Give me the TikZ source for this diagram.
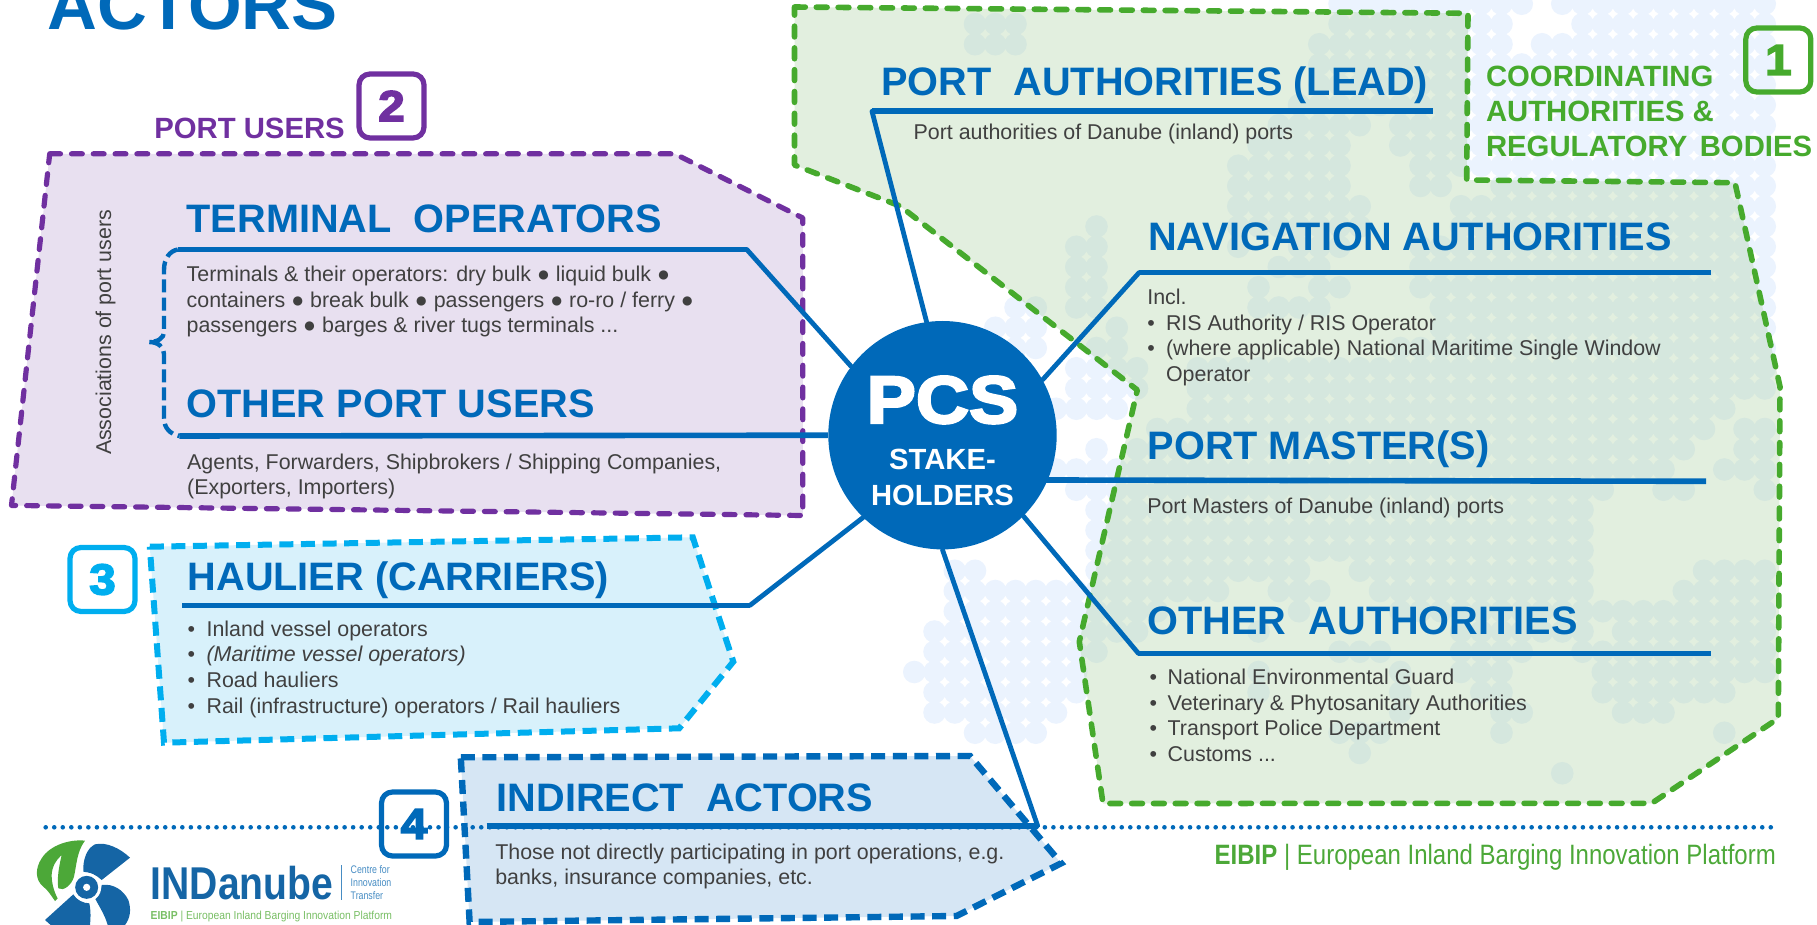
\documentclass[tikz,border=0pt]{standalone}
\usepackage{fontspec}
\usepackage{graphicx}
\setmainfont{Liberation Sans}
\newfontfamily\heavy{Liberation Sans}[BoldFeatures={FakeBold=3.5,FakeStretch=1.1}]
\definecolor{cblue}{RGB}{0,105,185}
\definecolor{cgreen}{RGB}{70,170,45}
\definecolor{cpurple}{RGB}{112,48,160}
\definecolor{ccyan}{RGB}{0,174,239}
\definecolor{ctext}{RGB}{64,64,64}
\definecolor{fdot}{RGB}{235,243,254}
\definecolor{fgreen}{RGB}{172,209,163}
\definecolor{fpurple}{RGB}{232,224,240}
\definecolor{fcyan}{RGB}{216,241,251}
\definecolor{findirect}{RGB}{214,230,244}
\definecolor{lgblue}{RGB}{21,101,165}
\definecolor{lgblue2}{RGB}{70,140,195}
\definecolor{lggreen}{RGB}{76,168,56}
\definecolor{lggreen2}{RGB}{120,190,100}
\tikzset{
  tx/.style={anchor=base west,inner sep=0pt,outer sep=0pt},
  head/.style={tx,text=cblue,font=\bfseries\fontsize{19.85}{22}\selectfont},
  bodyt/.style={tx,text=ctext,font=\fontsize{10.7}{12}\selectfont},
  sub/.style={tx,font=\bfseries\fontsize{14.65}{17}\selectfont},
  conn/.style={draw=cblue,line width=2.8pt},
  diag/.style={draw=cblue,line width=2.4pt,line cap=round},
  numbox/.style={draw=#1,text=#1,line width=2.6pt,rounded corners=5.5pt,minimum width=32.5pt,minimum height=32pt,inner sep=0pt,font=\heavy\bfseries\fontsize{21.7}{24}\selectfont},
  gbox/.style={draw=cgreen,line width=2.8pt,dash pattern=on 5.4pt off 5.5pt,line cap=round,line join=round},
  pbox/.style={draw=cpurple,fill=fpurple,line width=2.6pt,dash pattern=on 5.4pt off 5.5pt,line cap=round,line join=round},
  cbox/.style={draw=ccyan,fill=fcyan,line width=3pt,dash pattern=on 7pt off 3.8pt,line join=miter},
  ibox/.style={draw=cblue,fill=findirect,line width=3.2pt,dash pattern=on 7pt off 3.8pt,line join=miter},
}
\begin{document}
\begin{tikzpicture}[x=0.5pt,y=-0.5pt]
\useasboundingbox (0,0) rectangle (1817,925);
% background dot map
\foreach \r/\s in {
0/{18/27,29/39},1/{0/2,18/26,30/39},2/{0/2,17/26,28/39},3/{17/39},4/{17/39},5/{16/39},
6/{15/19,21/39},7/{14/18,21/39},8/{13/18,22/39},9/{13/18,22/23,26/39},10/{13/19,24/39},
11/{6/6,13/19,24/39},12/{5/6,13/13,16/18,22/39},13/{5/6,15/17,22/39},14/{5/6,14/14,17/18,22/39},
15/{2/3,5/6,14/17,23/39},16/{1/3,7/7,23/39},17/{2/3,6/7,21/39},18/{5/8,11/39},19/{5/8,11/39},
20/{4/7,11/37},21/{9/36,38/39},22/{6/6,8/35,38/39},23/{4/34,37/39},24/{5/31,34/35,39/39},
25/{6/30},26/{6/30},27/{6/30},28/{-1/0,6/16,19/30,36/39},29/{-1/12,15/17,20/30,35/39},
30/{-1/9,16/16,21/39},31/{-2/8,14/14,24/30,32/39},32/{-2/6,18/20,24/27,30/39},
33/{-3/5,14/14,21/21,24/26,31/39},34/{-2/5,14/14,21/21,25/26,31/37},35/{-2/4,21/21,26/27,32/34},
36/{0/3,18/20,26/26,37/37},37/{19/19},38/{29/29}}{
  \foreach \a/\b in \s {
    \foreach \c in {\a,...,\b} {
      \fill[fdot] ({975+20.25*\c},{3.75+20.25*\r}) circle[radius=5.65pt];
    }
  }
}
% zones
\fill[fgreen,opacity=.35] (794.5,7) -- (1468,13.3) -- (1466.7,180) -- (1735,182.7) -- (1780,386.7) -- (1778.3,718.3) -- (1651.7,803.3) -- (1103,803.5) -- (1079.3,641.7) -- (1137.3,390) -- (900,206) -- (794.5,165) -- cycle;
\draw[gbox] (794.5,7) -- (1468,13.3) -- (1466.7,180) -- (1735,182.7) -- (1780,386.7) -- (1778.3,718.3) -- (1651.7,803.3) -- (1103,803.5) -- (1079.3,641.7) -- (1137.3,390) -- (900,206) -- (794.5,165) -- cycle;
\draw[pbox] (49.7,153.8) -- (674.7,153.8) -- (802.8,218) -- (802.8,515.5) -- (11.5,505.4) -- cycle;
\draw[cbox] (149.8,546.7) -- (692.8,537.3) -- (733.3,661.7) -- (679.2,728.3) -- (164,742.7) -- cycle;
\draw[ibox] (460.8,757.3) -- (970,756) -- (1061.2,863.3) -- (956.5,916) -- (469.6,922) -- cycle;
% dotted rule
\coordinate (dotL) at (45.7,827.3);
\coordinate (dotR) at (1774.8,827.3);
\draw[cblue,line width=2.3pt,line cap=round,dash pattern=on 0pt off 4.27pt] (dotL) -- (dotR);
% centre
\node[circle,fill=cblue,minimum size=114.2pt,inner sep=0pt] (pcs) at (942.5,435.2) {};
% connector end points
\coordinate (paL) at (872,111.3); \coordinate (paR) at (1433.4,111.3);
\coordinate (navL) at (1139,272.7); \coordinate (navR) at (1710.7,272.7);
\coordinate (pmR) at (1706,481.3);
\coordinate (oaL) at (1138.3,653.3); \coordinate (oaR) at (1710.7,653.3);
\coordinate (inL) at (486.5,825.7); \coordinate (inR) at (1037.6,825.7);
\coordinate (haL) at (182,605.3); \coordinate (haR) at (750,605.3);
\coordinate (toL) at (177.8,249.5); \coordinate (toR) at (746.8,249.5);
\coordinate (opL) at (179.4,436);
\coordinate (brT) at (164,270); \coordinate (brM) at (164,332); \coordinate (brTip) at (149,342);
\coordinate (brN) at (164,354); \coordinate (brB) at (164,418);
% connectors
\draw[diag] (paL) -- (pcs.98.5);
\draw[conn] (paL) -- (paR);
\draw[diag] (navL) -- (pcs.29);
\draw[conn] (navL) -- (navR);
\draw[conn] ([xshift=-4pt]pcs.-23.6) -- (pmR);
\draw[diag] (oaL) -- (pcs.-45.3);
\draw[conn] (oaL) -- (oaR);
\draw[diag] (inR) -- (pcs.270);
\draw[conn] (inL) -- (inR);
\draw[diag] (haR) -- (pcs.226);
\draw[conn] (haL) -- (haR);
\draw[diag] (toR) -- (pcs.143.6);
\draw[conn] (toL) -- (toR);
\draw[conn] (opL) -- (pcs.180);
\draw[cblue,line width=2.2pt,dash pattern=on 6.5pt off 2.6pt] (toL) .. controls (170,251) and (164,258) .. (brT) -- (brM) .. controls (164,338) and (158,342) .. (brTip) .. controls (158,342) and (164,347) .. (brN) -- (brB) .. controls (164,428) and (170,434) .. (opL);
% centre text
\node[tx,anchor=base,text=white,font=\heavy\bfseries\fontsize{33.5}{36}\selectfont] (pcsT) at (942.5,423) {PCS};
\node[tx,anchor=base,text=white,font=\bfseries\fontsize{14.6}{17}\selectfont] (st1) at (942.5,470) {STAKE-};
\node[tx,anchor=base,text=white,font=\bfseries\fontsize{14.6}{17}\selectfont] (st2) at (942.5,505) {HOLDERS};
% title
\node[tx,text=cblue,font=\bfseries\fontsize{34.5}{36}\selectfont] (title) at (47.5,29.8) {ACTORS};
% port users
\node[sub,text=cpurple] (pu) at (154.3,138.5) {PORT USERS};
\node[numbox=cpurple] (b2) at (391.5,106) {2};
\node[tx,anchor=base west,rotate=90,text=ctext,font=\fontsize{10.7}{12}\selectfont] (assoc) at (111,455) {Associations of port users};
\node[head] (h1) at (186.7,232.5) {TERMINAL\ \ OPERATORS};
\node[bodyt] (t1a) at (186.7,281.3) {Terminals \& their operators: dry bulk ● liquid bulk ●};
\node[bodyt] (t1b) at (186.7,307.6) {containers ● break bulk ● passengers ● ro-ro / ferry ●};
\node[bodyt] (t1c) at (186.7,333) {passengers ● barges \& river tugs terminals ...};
\node[head] (h2) at (186.7,417.5) {OTHER PORT USERS};
\node[bodyt] (t2a) at (187.2,470) {Agents, Forwarders, Shipbrokers / Shipping Companies,};
\node[bodyt] (t2b) at (187.2,494.6) {(Exporters, Importers)};
% haulier
\node[numbox=ccyan] (b3) at (102.5,579.5) {3};
\node[head] (h3) at (187.7,590.7) {HAULIER (CARRIERS)};
\node[bodyt] (b3a) at (187.7,636.7) {•}; \node[bodyt] (t3a) at (206.6,636.7) {Inland vessel operators};
\node[bodyt] (b3b) at (187.7,661.7) {•}; \node[bodyt,font=\itshape\fontsize{10.7}{12}\selectfont] (t3b) at (206.6,661.7) {(Maritime vessel operators)};
\node[bodyt] (b3c) at (187.7,687.7) {•}; \node[bodyt] (t3c) at (206.6,687.7) {Road hauliers};
\node[bodyt] (b3d) at (187.7,713.3) {•}; \node[bodyt] (t3d) at (206.6,713.3) {Rail (infrastructure) operators / Rail hauliers};
% indirect
\node[numbox=cblue] (b4) at (414,824) {4};
\node[head] (h4) at (496.7,811) {INDIRECT\ \ ACTORS};
\node[bodyt] (t4a) at (495.3,859) {Those not directly participating in port operations, e.g.};
\node[bodyt] (t4b) at (495.3,884) {banks, insurance companies, etc.};
% authorities
\node[sub,text=cgreen] (c1) at (1486,86.7) {COORDINATING};
\node[sub,text=cgreen] (c2) at (1486,121.7) {AUTHORITIES \&};
\node[sub,text=cgreen] (c3) at (1486,156.7) {REGULATORY\hspace{2.2pt} BODIES};
\node[numbox=cgreen] (b1) at (1778.3,60) {1};
\node[head] (h5) at (881.2,95.7) {PORT\ \ AUTHORITIES (LEAD)};
\node[bodyt] (t5) at (913.6,139.5) {Port authorities of Danube (inland) ports};
\node[head] (h6) at (1148.3,250.7) {NAVIGATION AUTHORITIES};
\node[bodyt] (t6a) at (1147.3,305) {Incl.};
\node[bodyt] (b6b) at (1147.3,330.7) {•}; \node[bodyt] (t6b) at (1166,330.7) {RIS Authority / RIS Operator};
\node[bodyt] (b6c) at (1147.3,355.7) {•}; \node[bodyt] (t6c) at (1166,355.7) {(where applicable) National Maritime Single Window};
\node[bodyt] (t6d) at (1166,381.7) {Operator};
\node[head] (h7) at (1147.7,459) {PORT MASTER(S)};
\node[bodyt] (t7) at (1147.3,513.3) {Port Masters of Danube (inland) ports};
\node[head] (h8) at (1147.7,634) {OTHER\ \ AUTHORITIES};
\node[bodyt] (b8a) at (1149.5,684) {•}; \node[bodyt] (t8a) at (1167.7,684) {National Environmental Guard};
\node[bodyt] (b8b) at (1149.5,710.7) {•}; \node[bodyt] (t8b) at (1167.7,710.7) {Veterinary \& Phytosanitary Authorities};
\node[bodyt] (b8c) at (1149.5,735) {•}; \node[bodyt] (t8c) at (1167.7,735) {Transport Police Department};
\node[bodyt] (b8d) at (1149.5,761.7) {•}; \node[bodyt] (t8d) at (1167.7,761.7) {Customs ...};
% right footer
\node[tx,text=lggreen,font=\fontsize{14}{16}\selectfont] (eibipR) at (1214.7,864.5) {\scalebox{0.857}[1]{\textbf{EIBIP} | European Inland Barging Innovation Platform}};
% logo
\begin{scope}[shift={(30,835)},x=0.16667pt,y=-0.16667pt]
  \fill[lggreen] (165,17) .. controls (120,12) and (60,30) .. (35,70) .. controls (15,100) and (15,135) .. (40,155) .. controls (55,167) and (62,180) .. (75,198) -- (83,190) .. controls (72,170) and (65,145) .. (65,120) .. controls (66,95) and (78,75) .. (95,60) .. controls (88,90) and (80,130) .. (85,160) .. controls (100,170) and (125,150) .. (132,125) .. controls (140,90) and (140,50) .. (165,17) -- cycle;
  \fill[lgblue] (160,110) .. controls (158,75) and (170,40) .. (195,28) .. controls (230,20) and (270,40) .. (300,68) -- (215,135) .. controls (200,120) and (180,112) .. (160,110) -- cycle;
  \fill[lgblue] (215,150) .. controls (250,145) and (280,165) .. (295,195) .. controls (305,225) and (300,250) .. (285,270) -- (233,270) .. controls (225,240) and (205,210) .. (195,190) .. controls (205,180) and (215,165) .. (215,150) -- cycle;
  \fill[lgblue] (45,255) -- (130,178) .. controls (140,195) and (160,205) .. (178,205) .. controls (183,230) and (182,250) .. (180,270) -- (62,270) -- cycle;
  \node[circle,fill=white,minimum size=14.5pt,inner sep=0pt] (hubW) at (170,157) {};
  \node[circle,fill=lgblue,minimum size=11.5pt,inner sep=0pt] (hubB) at (170,157) {};
  \node[circle,fill=white,minimum size=3.6pt,inner sep=0pt] (hubH) at (170,157) {};
\end{scope}
\node[tx,text=lgblue,font=\bfseries\fontsize{23}{25}\selectfont] (ind) at (150.7,899.3) {\scalebox{0.85}[1]{INDanube}};
\coordinate (sepT) at (341.7,865); \coordinate (sepB) at (341.7,900);
\draw[lgblue2,line width=0.5pt] (sepT) -- (sepB);
\node[tx,text=lgblue2,font=\fontsize{5.5}{6}\selectfont] (lg1) at (350.7,873) {\scalebox{0.8}[1]{Centre for}};
\node[tx,text=lgblue2,font=\fontsize{5.5}{6}\selectfont] (lg2) at (350.7,886.7) {\scalebox{0.8}[1]{Innovation}};
\node[tx,text=lgblue2,font=\fontsize{5.5}{6}\selectfont] (lg3) at (350.7,899.3) {\scalebox{0.8}[1]{Transfer}};
\node[tx,text=lggreen2,font=\fontsize{5.8}{7}\selectfont] (lg4) at (150.7,919) {\scalebox{0.89}[1]{\textbf{EIBIP} | European Inland Barging Innovation Platform}};
\end{tikzpicture}
\end{document}
